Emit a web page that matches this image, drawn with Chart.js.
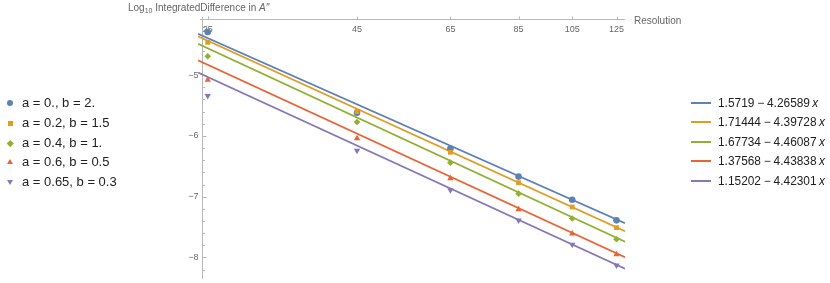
<!DOCTYPE html>
<html lang="en">
<head>
  <meta charset="UTF-8">
  <title>Log10 Integrated Difference vs Resolution</title>
  <script src="https://cdn.jsdelivr.net/npm/chart.js"></script>
  <style>
    html, body { margin: 0; padding: 0; background: #fff; }
    body {
      width: 830px; height: 283px; position: relative; overflow: hidden;
      font-family: 'Liberation Sans', Arial, Helvetica, sans-serif;
    }
    #chart { position: absolute; left: 0; top: 0; }
    .axis-title { position: absolute; font-size: 10px; color: #666; white-space: nowrap; line-height: 10px; }
    #yTitle { left: 128px; top: 3px; }
    #yTitle sub { font-size: 7px; vertical-align: -2px; line-height: 0; }
    #xTitle { left: 634px; top: 16px; }
    .legend { position: absolute; color: #222; }
    .legend .row { position: absolute; left: 0; height: 20px; line-height: 20px; white-space: nowrap; }
    #legendLeft { left: 0; top: 0; font-size: 13px; }
    #legendLeft .row span.txt { position: absolute; left: 22px; top: 0; }
    #legendRight { left: 691px; top: 0; font-size: 11.9px; }
    #legendRight .row span.txt { position: absolute; left: 27px; top: 0; }
    .mk { position: absolute; }
  </style>
</head>
<body>
  <canvas id="chart" width="830" height="283"></canvas>
  <div class="axis-title" id="yTitle">Log<sub>10</sub> IntegratedDifference in <i>A′′</i></div>
  <div class="axis-title" id="xTitle">Resolution</div>
  <div class="legend" id="legendLeft"></div>
  <div class="legend" id="legendRight"></div>

  <script>
    // data
    const resolutions = [25, 45, 65, 85, 105, 125];
    const seriesLabels = ['a = 0., b = 2.', 'a = 0.2, b = 1.5', 'a = 0.4, b = 1.', 'a = 0.6, b = 0.5', 'a = 0.65, b = 0.3'];
    const valsA0B2 = [-4.29, -5.62, -6.21, -6.67, -7.05, -7.39];
    const valsA02B15 = [-4.46, -5.60, -6.27, -6.77, -7.17, -7.51];
    const valsA04B1 = [-4.69, -5.77, -6.44, -6.95, -7.36, -7.70];
    const valsA06B05 = [-5.08, -6.04, -6.70, -7.21, -7.61, -7.95];
    const valsA065B03 = [-5.34, -6.24, -6.89, -7.39, -7.79, -8.13];
    const seriesValues = [valsA0B2, valsA02B15, valsA04B1, valsA06B05, valsA065B03];

    // linear fits: y = intercept - slope * log10(resolution)
    const fitIntercepts = ['1.5719', '1.71444', '1.67734', '1.37568', '1.15202'];
    const fitSlopes = ['4.26589', '4.39728', '4.46087', '4.43838', '4.42301'];

    const xTicks = [25, 45, 65, 85, 105, 125];
    const yTicks = [-5, -6, -7, -8];

    const colors = ['#5E81B5', '#E19C24', '#8FB032', '#EB6235', '#8778B3'];
    const pointStyles = ['circle', 'rect', 'rectRot', 'triangle', 'triangle'];
    const pointRotations = [0, 0, 0, 0, 180];
    const pointRadii = [3.3, 3.4, 3.3, 3.7, 3.7];

    const X_MIN = 24.06, X_MAX = 129.25, Y_AXIS_AT = 24.4;
    const Y_MIN = -8.355, Y_MAX = -4.076;

    const datasets = [];
    seriesValues.forEach((vals, i) => {
      datasets.push({
        label: seriesLabels[i],
        data: resolutions.map((r, j) => ({ x: r, y: vals[j] })),
        showLine: false,
        pointStyle: pointStyles[i],
        rotation: pointRotations[i],
        pointRadius: pointRadii[i],
        backgroundColor: colors[i],
        borderColor: colors[i],
        borderWidth: 0,
        order: 10 - i
      });
    });
    fitIntercepts.forEach((a, i) => {
      const fit = r => parseFloat(a) - parseFloat(fitSlopes[i]) * Math.log10(r);
      datasets.push({
        label: a + ' − ' + fitSlopes[i] + ' x',
        data: [{ x: X_MIN, y: fit(X_MIN) }, { x: X_MAX, y: fit(X_MAX) }],
        showLine: true,
        pointRadius: 0,
        borderColor: colors[i],
        borderWidth: 1.7,
        order: 20 - i
      });
    });

    // Mathematica-style axes: x axis along the top, ticks pointing inward
    const axesPlugin = {
      id: 'mmaAxes',
      beforeDatasetsDraw(chart) {
        const { ctx, chartArea, scales: { x, y } } = chart;
        const ax = Math.round(x.getPixelForValue(Y_AXIS_AT)) + 0.5;
        const ay = chartArea.top + 0.5;
        ctx.save();
        ctx.strokeStyle = '#b8b8b8';
        ctx.lineWidth = 1;
        ctx.beginPath();
        ctx.moveTo(chartArea.left + 2, ay); ctx.lineTo(chartArea.right, ay);
        ctx.moveTo(ax, chartArea.top - 2); ctx.lineTo(ax, chartArea.bottom);
        ctx.stroke();

        ctx.beginPath();
        xTicks.forEach(t => {
          const px = Math.round(x.getPixelForValue(t)) + 0.5;
          ctx.moveTo(px, ay); ctx.lineTo(px, ay - 3);
        });
        for (let v = -4.2; v > Y_MIN; v -= 0.2) {
          const py = Math.round(y.getPixelForValue(v)) + 0.5;
          const major = Math.abs(v - Math.round(v)) < 1e-6;
          ctx.moveTo(ax, py); ctx.lineTo(ax + (major ? 4 : 2.5), py);
        }
        ctx.stroke();

        ctx.fillStyle = '#666';
        ctx.font = '9px "Liberation Sans", Arial, sans-serif';
        ctx.textBaseline = 'middle';
        ctx.textAlign = 'center';
        xTicks.forEach(t => ctx.fillText(String(t), x.getPixelForValue(t), 29.5));
        ctx.textAlign = 'right';
        yTicks.forEach(t => ctx.fillText('−' + Math.abs(t), ax - 4, y.getPixelForValue(t)));
        ctx.restore();
      }
    };

    new Chart(document.getElementById('chart'), {
      type: 'scatter',
      data: { datasets },
      options: {
        responsive: false,
        animation: false,
        layout: { padding: { left: 198, right: 205, top: 19, bottom: 0 } },
        scales: {
          x: { type: 'logarithmic', display: false, min: X_MIN, max: X_MAX },
          y: { type: 'linear', display: false, min: Y_MIN, max: Y_MAX }
        },
        plugins: { legend: { display: false }, tooltip: { enabled: false } }
      },
      plugins: [axesPlugin]
    });

    // legends
    function markerHtml(i) {
      const c = colors[i];
      switch (i) {
        case 0: return `<span class="mk" style="left:7px;top:7px;width:6px;height:6px;border-radius:50%;background:${c}"></span>`;
        case 1: return `<span class="mk" style="left:8px;top:8px;width:4.5px;height:4.5px;background:${c}"></span>`;
        case 2: return `<span class="mk" style="left:8px;top:8px;width:4.5px;height:4.5px;background:${c};transform:rotate(45deg)"></span>`;
        case 3: return `<span class="mk" style="left:7px;top:7px;width:0;height:0;border-left:3px solid transparent;border-right:3px solid transparent;border-bottom:5.5px solid ${c}"></span>`;
        default: return `<span class="mk" style="left:7px;top:7.5px;width:0;height:0;border-left:3px solid transparent;border-right:3px solid transparent;border-top:5.5px solid ${c}"></span>`;
      }
    }
    const left = document.getElementById('legendLeft');
    const right = document.getElementById('legendRight');
    seriesLabels.forEach((lab, i) => {
      const topL = Math.round(93 + 19.75 * i);
      const topR = Math.round(93 + 19.4 * i);
      left.insertAdjacentHTML('beforeend', `<div class="row" style="top:${topL}px">${markerHtml(i)}<span class="txt">${lab}</span></div>`);
      right.insertAdjacentHTML('beforeend',
        `<div class="row" style="top:${topR}px"><span class="mk" style="left:0;top:9px;width:20px;height:1.5px;background:${colors[i]}"></span>` +
        `<span class="txt">${fitIntercepts[i]} −\u2009${fitSlopes[i]}\u2009<i>x</i></span></div>`);
    });
  </script>
</body>
</html>
